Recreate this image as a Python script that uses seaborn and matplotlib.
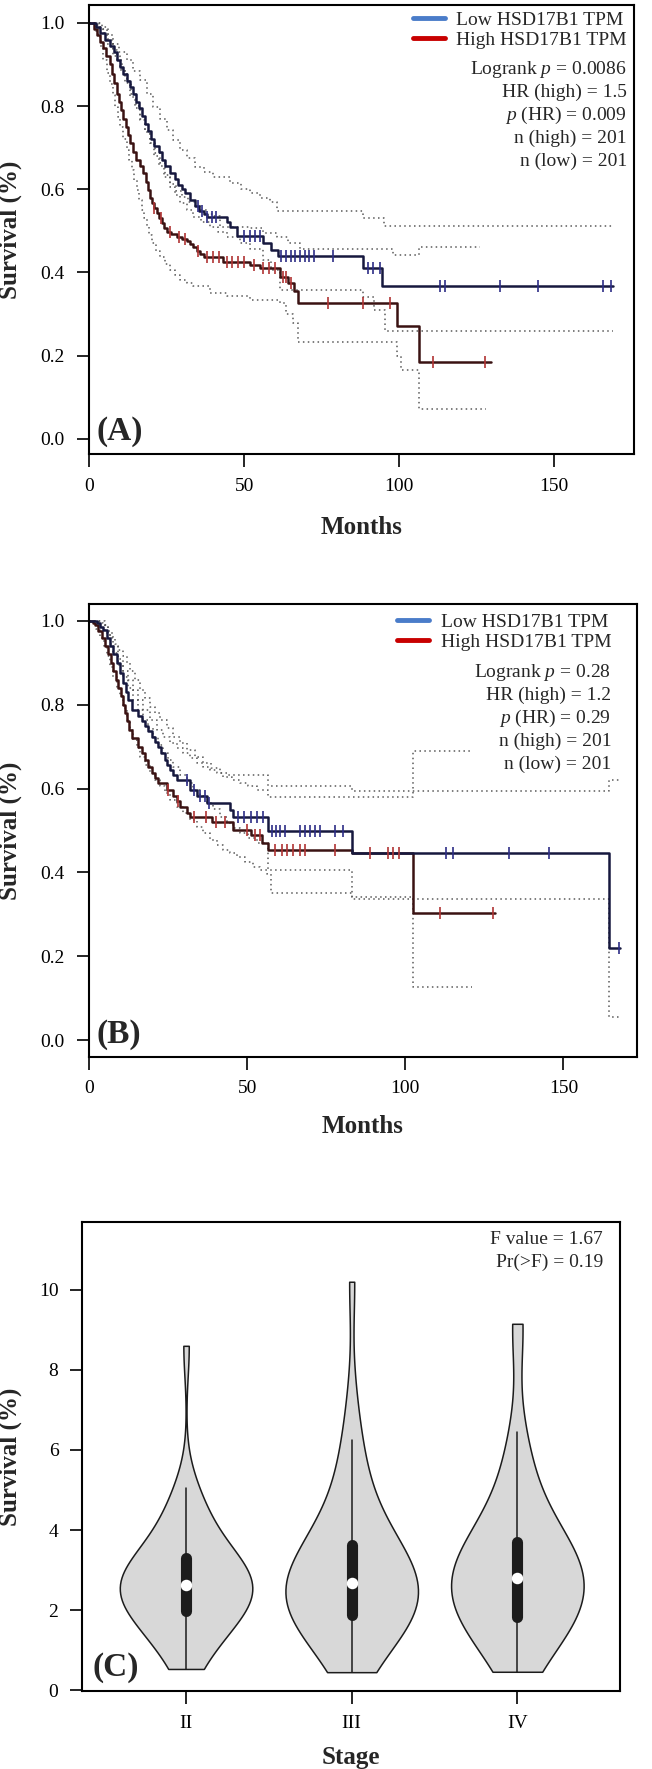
from __future__ import annotations

import matplotlib

matplotlib.use("Agg")
import matplotlib.pyplot as plt
from matplotlib.lines import Line2D
import numpy as np
import pandas as pd
import seaborn as sns


# ---------------- panel A: Kaplan-Meier steps (months, survival) ----------------
A_LOW_T = [0, 2, 3.5, 5, 6.5, 8, 9, 10, 11, 12, 13, 14, 15, 16, 17, 18, 19, 20, 21, 22.5,
           23.5, 24.5, 26, 27.5, 28.5, 30, 31, 32.5, 34, 35.5, 37, 38, 44.3, 45.5, 47.6,
           56.1, 58.8, 61, 88.5, 94.4, 169]
A_LOW_S = [1.0, 0.99, 0.975, 0.96, 0.945, 0.93, 0.91, 0.895, 0.878, 0.86, 0.845, 0.83, 0.81,
           0.795, 0.775, 0.758, 0.74, 0.72, 0.705, 0.69, 0.67, 0.655, 0.64, 0.625, 0.61, 0.60,
           0.59, 0.575, 0.56, 0.548, 0.54, 0.534, 0.52, 0.51, 0.487, 0.47, 0.454, 0.44, 0.41,
           0.367, 0.367]
A_HIGH_T = [0, 1.5, 2.5, 3.5, 4.5, 5.5, 6.5, 7.2, 8, 8.8, 9.5, 10.2, 11, 11.8, 12.5, 13.2, 14,
            15, 16.2, 17.4, 18.2, 19, 19.6, 20.3, 21, 21.8, 22.5, 23.3, 24.1, 25, 26.5, 28.2,
            30, 31.5, 32.5, 33.6, 34.8, 35.7, 37, 43.3, 51.9, 55.1, 61.6, 64.3, 66, 67.4,
            99.2, 106.6, 129.7]
A_HIGH_S = [1.0, 0.985, 0.97, 0.955, 0.94, 0.92, 0.9, 0.878, 0.855, 0.83, 0.81, 0.79, 0.77,
            0.75, 0.73, 0.71, 0.69, 0.67, 0.655, 0.638, 0.618, 0.598, 0.58, 0.566, 0.554, 0.542,
            0.53, 0.518, 0.506, 0.498, 0.492, 0.486, 0.48, 0.475, 0.468, 0.46, 0.452, 0.445,
            0.436, 0.426, 0.418, 0.41, 0.39, 0.374, 0.354, 0.326, 0.272, 0.184, 0.184]
A_LOW_CENS = [35, 36.5, 38, 39.5, 41, 50, 52, 53.5, 55, 62, 63.5, 65, 66.5, 68, 69.5, 71, 72.5,
              78.8, 90, 91.7, 93.8, 113.2, 114.8, 132.6, 145, 166, 168.5]
A_HIGH_CENS = [21, 23, 26, 29, 31, 35, 38, 40, 42, 44.5, 46, 48, 50, 53, 56, 58, 60, 62.5,
               63.5, 65, 77.2, 88.5, 97.1, 111.1, 127.8]

A_LOW_UP_T = [0, 3, 4, 6, 7.7, 9.5, 12, 14, 16.3, 18.5, 20.6, 22.8, 24.9, 27, 29.3, 31.5, 34.1,
              37, 40, 45.4, 49, 51.9, 55, 58.3, 60.6, 88.5, 95, 169]
A_LOW_UP_S = [1.0, 1.0, 0.99, 0.97, 0.95, 0.93, 0.91, 0.885, 0.862, 0.83, 0.798, 0.77, 0.742,
              0.718, 0.694, 0.675, 0.654, 0.642, 0.63, 0.614, 0.60, 0.59, 0.58, 0.57, 0.548,
              0.53, 0.512, 0.512]
A_LOW_LO_T = [0, 3, 5.6, 7.5, 9.9, 11.5, 13.1, 14.7, 16.3, 18, 19.6, 21.2, 22.8, 24.4, 26, 27.7,
              29.3, 31.5, 33.6, 36, 38.9, 41.5, 44.3, 48.6, 52, 56, 58.5, 61.6, 88.5, 92, 95.4,
              169]
A_LOW_LO_S = [1.0, 0.985, 0.95, 0.92, 0.886, 0.855, 0.822, 0.795, 0.766, 0.738, 0.71, 0.686,
              0.662, 0.634, 0.606, 0.585, 0.566, 0.55, 0.534, 0.52, 0.51, 0.498, 0.486, 0.47,
              0.455, 0.43, 0.405, 0.357, 0.34, 0.31, 0.259, 0.259]
A_HIGH_UP_T = [0, 2, 3, 4.5, 6, 7.5, 9, 10.5, 12, 13.5, 15, 16.5, 18, 19.5, 21, 22.5, 24, 26, 28,
               30, 32, 34, 36, 38, 40, 42.2, 51.9, 56, 60.6, 64, 68.1, 98.2, 106.6, 126]
A_HIGH_UP_S = [1.0, 0.995, 0.99, 0.975, 0.96, 0.935, 0.91, 0.885, 0.86, 0.83, 0.80, 0.77, 0.74,
               0.71, 0.68, 0.655, 0.63, 0.612, 0.595, 0.582, 0.57, 0.56, 0.55, 0.54, 0.535,
               0.51, 0.506, 0.495, 0.486, 0.47, 0.455, 0.442, 0.461, 0.461]
A_HIGH_LO_T = [0, 2, 2.9, 3.7, 4.5, 5.6, 6.7, 7.5, 8.3, 9.1, 9.9, 11, 12, 12.9, 13.7, 14.5, 15.3,
               16.1, 16.9, 17.7, 18.5, 19.3, 20.1, 21.5, 22.8, 24.4, 26, 27.7, 29.3, 31.5, 33.6,
               38.9, 44.3, 52, 61.6, 63.6, 65.7, 67.4, 99.5, 100.6, 106.6, 128]
A_HIGH_LO_S = [1.0, 0.98, 0.966, 0.94, 0.91, 0.88, 0.854, 0.826, 0.798, 0.774, 0.75, 0.72, 0.694,
               0.67, 0.646, 0.622, 0.598, 0.574, 0.55, 0.53, 0.51, 0.49, 0.47, 0.452, 0.438,
               0.42, 0.406, 0.393, 0.382, 0.374, 0.366, 0.35, 0.342, 0.334, 0.326, 0.30, 0.278,
               0.233, 0.20, 0.164, 0.072, 0.072]
A_STATS = ["Logrank $p$ = 0.0086", "HR (high) = 1.5", "$p$ (HR) = 0.009",
           "n (high) = 201", "n (low) = 201"]

# ---------------- panel B ----------------
B_LOW_T = [0, 1.5, 2.3, 3.3, 4.4, 5.5, 6.5, 7.5, 8.6, 9.6, 10.7, 11.5, 12.3, 13.4, 15.5, 16.5,
           17.6, 18.6, 19.7, 20.7, 21.8, 22.8, 23.9, 24.7, 25.5, 26.5, 27.6, 31.8, 33.9, 37.1,
           44.5, 45.5, 56.6, 83, 164.4, 167.8]
B_LOW_S = [1.0, 1.0, 0.994, 0.985, 0.978, 0.96, 0.939, 0.92, 0.899, 0.875, 0.851, 0.83, 0.811,
           0.788, 0.772, 0.76, 0.748, 0.736, 0.724, 0.712, 0.70, 0.684, 0.668, 0.656, 0.644,
           0.632, 0.62, 0.597, 0.581, 0.565, 0.549, 0.533, 0.499, 0.446, 0.22, 0.22]
B_HIGH_T = [0, 1, 1.8, 2.8, 3.9, 5, 6, 6.8, 7.6, 8.4, 9.2, 10, 10.7, 11.3, 11.8, 12.6, 13.4,
            15.5, 16.5, 17.6, 18.6, 19.7, 20.7, 21.8, 24.5, 26.6, 27.6, 28.7, 30.8, 31.8, 38.7,
            45.5, 51, 54.5, 56.6, 83, 102.5, 128.5]
B_HIGH_S = [1.0, 0.995, 0.99, 0.975, 0.96, 0.94, 0.92, 0.9, 0.88, 0.86, 0.84, 0.82, 0.80, 0.78,
            0.76, 0.74, 0.72, 0.70, 0.684, 0.668, 0.652, 0.636, 0.624, 0.613, 0.597, 0.581,
            0.569, 0.557, 0.541, 0.532, 0.52, 0.50, 0.488, 0.469, 0.453, 0.447, 0.302, 0.302]
B_LOW_CENS = [31, 33, 35, 36.5, 38, 47, 49, 51, 53, 55, 57.7, 59, 60.3, 61.9, 66.6, 68.2, 69.8,
              71.4, 73, 77.7, 80.4, 113, 115.2, 132.8, 145.4, 167.5]
B_HIGH_CENS = [25, 28, 33, 37, 40, 43, 50, 52.5, 54, 58.7, 60.8, 62.4, 64.5, 66.6, 68.2, 77.7,
               88.7, 94.5, 96, 98.1, 110.9, 127.8]

B_LOW_UP_T = [0, 4, 5, 6, 7, 8, 9, 10.5, 11.8, 13, 14.5, 16, 17.6, 19.2, 20.7, 22.3, 24.5,
              26.6, 28.7, 30.8, 33.4, 36, 38.6, 41.3, 44, 56.6, 83, 164.4, 167.8]
B_LOW_UP_S = [1.0, 1.0, 0.99, 0.975, 0.96, 0.945, 0.93, 0.915, 0.9, 0.88, 0.86, 0.836, 0.815,
              0.795, 0.78, 0.764, 0.745, 0.724, 0.708, 0.692, 0.676, 0.66, 0.648, 0.636, 0.632,
              0.605, 0.594, 0.62, 0.62]
B_LOW_LO_T = [0, 3, 5, 6.5, 7.6, 9.2, 10.7, 12.3, 13.9, 15.5, 17.1, 18.6, 20.2, 21.8, 23.4, 25,
              26.6, 28.7, 30.8, 32.9, 35, 37.1, 39.2, 41.3, 43.4, 45.5, 47.7, 50.3, 52.9, 56.6,
              83, 164.4, 167.8]
B_LOW_LO_S = [1.0, 0.99, 0.97, 0.945, 0.923, 0.895, 0.867, 0.84, 0.811, 0.787, 0.764, 0.744,
              0.724, 0.704, 0.684, 0.668, 0.652, 0.632, 0.613, 0.597, 0.581, 0.565, 0.55, 0.533,
              0.517, 0.505, 0.493, 0.481, 0.469, 0.406, 0.336, 0.054, 0.054]
B_HIGH_UP_T = [0, 2, 3, 4.4, 6, 7.6, 9.2, 10.7, 12.3, 13.9, 15.5, 17.1, 19.2, 21.3, 23.4, 25.5,
               27.6, 29.7, 31.8, 33.9, 36, 38.1, 40.3, 42.4, 45, 47.7, 50.3, 52.9, 56.6, 102.5,
               120.5]
B_HIGH_UP_S = [1.0, 1.0, 0.995, 0.99, 0.965, 0.94, 0.91, 0.88, 0.858, 0.835, 0.811, 0.787,
               0.764, 0.74, 0.724, 0.708, 0.696, 0.684, 0.672, 0.66, 0.652, 0.645, 0.636, 0.628,
               0.62, 0.613, 0.605, 0.597, 0.58, 0.69, 0.69]
B_HIGH_LO_T = [0, 2, 3.4, 4.5, 5.5, 6.5, 7.6, 8.6, 9.7, 10.7, 11.8, 12.9, 13.9, 15, 16, 17.6,
               19.2, 20.7, 22.3, 23.9, 25.5, 27.6, 29.7, 31.8, 33.9, 36, 38.1, 40.3, 42.4, 44.5,
               46.6, 49.2, 51.9, 54, 56.1, 57.5, 83, 102.5, 121]
B_HIGH_LO_S = [1.0, 0.98, 0.96, 0.94, 0.915, 0.89, 0.867, 0.843, 0.82, 0.792, 0.764, 0.74,
               0.716, 0.696, 0.676, 0.656, 0.636, 0.62, 0.605, 0.589, 0.573, 0.557, 0.541, 0.525,
               0.509, 0.493, 0.477, 0.465, 0.453, 0.445, 0.437, 0.425, 0.413, 0.405, 0.397,
               0.35, 0.342, 0.127, 0.127]
B_STATS = ["Logrank $p$ = 0.28", "HR (high) = 1.2", "$p$ (HR) = 0.29",
           "n (high) = 201", "n (low) = 201"]

# ---------------- panel C: values per stage ----------------
STAGES = ["II", "III", "IV"]
STAGE_II = [0.53, 0.8, 1.0, 1.18, 1.33, 1.47, 1.6, 1.71, 1.82, 1.9, 1.95, 2.02, 2.1, 2.18,
            2.26, 2.33, 2.4, 2.46, 2.52, 2.56, 2.6, 2.64, 2.7, 2.76, 2.82, 2.88, 2.94, 3.0,
            3.07, 3.13, 3.2, 3.32, 3.45, 3.6, 3.75, 3.92, 4.1, 4.3, 4.55, 4.85, 5.05, 8.6]
STAGE_III = [0.45, 0.68, 0.9, 1.08, 1.25, 1.4, 1.53, 1.64, 1.72, 1.79, 1.84, 1.88, 2.0, 2.07,
             2.14, 2.2, 2.26, 2.32, 2.38, 2.44, 2.5, 2.56, 2.67, 2.76, 2.85, 2.94, 3.02, 3.1,
             3.2, 3.3, 3.4, 3.48, 3.56, 3.63, 3.8, 4.0, 4.2, 4.45, 4.7, 5.0, 5.4, 5.9, 6.25,
             7.3, 10.2]
STAGE_IV = [0.46, 0.7, 0.92, 1.1, 1.27, 1.42, 1.55, 1.65, 1.72, 1.78, 1.81, 1.83, 1.95, 2.08,
            2.2, 2.3, 2.4, 2.48, 2.56, 2.63, 2.7, 2.75, 2.79, 2.88, 2.97, 3.06, 3.15, 3.24, 3.33,
            3.42, 3.5, 3.58, 3.64, 3.7, 3.88, 4.08, 4.3, 4.55, 4.8, 5.1, 5.5, 6.0, 6.45, 9.02,
            9.15]
C_STATS = ["F value = 1.67", "Pr(>F) = 0.19"]

LOW_LEGEND = "#4a7cc9"
HIGH_LEGEND = "#c80000"
LOW_LINE = "#16183e"
HIGH_LINE = "#3a1212"
LOW_TICK = "#2e2e86"
HIGH_TICK = "#b03434"
CI_COLOR = "#5a5a5a"


def _style() -> None:
    sns.set_style("ticks")
    plt.rcParams["font.family"] = ["Liberation Serif", "DejaVu Serif"]
    plt.rcParams.update(
        {
            "mathtext.fontset": "custom",
            "mathtext.rm": "Liberation Serif",
            "mathtext.it": "Liberation Serif:italic",
            "axes.linewidth": 1.5,
            "axes.edgecolor": "black",
            "xtick.major.size": 9,
            "ytick.major.size": 9,
            "xtick.major.width": 1.2,
            "ytick.major.width": 1.2,
            "xtick.major.pad": 8,
            "ytick.major.pad": 8,
            "xtick.color": "black",
            "ytick.color": "black",
        }
    )


def _steps(t, s) -> pd.DataFrame:
    return pd.DataFrame({"months": t, "survival": s})


def _value_at(t, s, times):
    idx = np.searchsorted(np.asarray(t), np.asarray(times), side="right") - 1
    return np.asarray(s)[idx]


def _frame(ax, ylabel, xlabel, label_x, label_y) -> None:
    for side in ["top", "right", "left", "bottom"]:
        ax.spines[side].set_visible(True)
        ax.spines[side].set_linewidth(1.5)
    ax.tick_params(labelsize=14, direction="out")
    ax.set_ylabel(ylabel, fontsize=18, fontweight="bold")
    ax.set_xlabel(xlabel, fontsize=18, fontweight="bold")
    ax.yaxis.set_label_coords(label_y, 0.5)
    ax.xaxis.set_label_coords(0.5, label_x)


def draw_km(ax, low, high, stats, xlim, ylim, text_x, rows, tag) -> None:
    for t, s in low["ci"] + high["ci"]:
        sns.lineplot(data=_steps(t, s), x="months", y="survival", ax=ax, estimator=None,
                     sort=False, drawstyle="steps-post", color=CI_COLOR, linewidth=1.1,
                     linestyle=(0, (1, 2.2)))
    for grp, line_c, tick_c in [(high, HIGH_LINE, HIGH_TICK), (low, LOW_LINE, LOW_TICK)]:
        sns.lineplot(data=_steps(grp["t"], grp["s"]), x="months", y="survival", ax=ax,
                     estimator=None, sort=False, drawstyle="steps-post", color=line_c,
                     linewidth=1.8)
        cens = pd.DataFrame({"months": grp["cens"],
                             "survival": _value_at(grp["t"], grp["s"], grp["cens"])})
        sns.scatterplot(data=cens, x="months", y="survival", ax=ax, marker="|", s=70,
                        linewidth=1.2, color=tick_c, zorder=4)

    ax.set_xlim(*xlim)
    ax.set_ylim(*ylim)
    ax.set_xticks([0, 50, 100, 150])
    ax.set_yticks([0.0, 0.2, 0.4, 0.6, 0.8, 1.0])
    ax.set_yticklabels([f"{v:.1f}" for v in [0.0, 0.2, 0.4, 0.6, 0.8, 1.0]])

    handles = [Line2D([], [], color=LOW_LEGEND, lw=3.5, label="Low HSD17B1 TPM"),
               Line2D([], [], color=HIGH_LEGEND, lw=3.5, label="High HSD17B1 TPM")]
    ax.legend(handles=handles, loc="upper right", frameon=False, fontsize=14,
              bbox_to_anchor=(text_x, rows[0] + 0.027), borderpad=0, borderaxespad=0,
              handlelength=1.65, handletextpad=0.6, labelspacing=0.1)
    for y, line in zip(rows[2:], stats):
        ax.text(text_x, y, line, transform=ax.transAxes, ha="right", va="center", fontsize=14)
    ax.text(0.014, 0.05, tag, transform=ax.transAxes, ha="left", va="center",
            fontsize=24, fontweight="bold")


def main() -> None:
    _style()
    fig = plt.figure(figsize=(6.52, 17.69), dpi=100)

    ax_a = fig.add_axes([0.1359, 0.7431, 0.8365, 0.2543])
    low_a = {"t": A_LOW_T, "s": A_LOW_S, "cens": A_LOW_CENS,
             "ci": [(A_LOW_UP_T, A_LOW_UP_S), (A_LOW_LO_T, A_LOW_LO_S)]}
    high_a = {"t": A_HIGH_T, "s": A_HIGH_S, "cens": A_HIGH_CENS,
              "ci": [(A_HIGH_UP_T, A_HIGH_UP_S), (A_HIGH_LO_T, A_HIGH_LO_S)]}
    rows_a = [0.958 - 0.0512 * i for i in range(7)]
    draw_km(ax_a, low_a, high_a, A_STATS, (-0.26, 175.9), (-0.038, 1.044), 0.987, rows_a, "(A)")
    _frame(ax_a, "Survival (%)", "Months", -0.137, -0.122)

    ax_b = fig.add_axes([0.1359, 0.4026, 0.8411, 0.2557])
    low_b = {"t": B_LOW_T, "s": B_LOW_S, "cens": B_LOW_CENS,
             "ci": [(B_LOW_UP_T, B_LOW_UP_S), (B_LOW_LO_T, B_LOW_LO_S)]}
    high_b = {"t": B_HIGH_T, "s": B_HIGH_S, "cens": B_HIGH_CENS,
              "ci": [(B_HIGH_UP_T, B_HIGH_UP_S), (B_HIGH_LO_T, B_HIGH_LO_S)]}
    rows_b = [0.953 - 0.0512 * i for i in range(7)]
    draw_km(ax_b, low_b, high_b, B_STATS, (-0.25, 173.3), (-0.040, 1.039), 0.953, rows_b, "(B)")
    _frame(ax_b, "Survival (%)", "Months", -0.128, -0.121)

    ax_c = fig.add_axes([0.1258, 0.0441, 0.8252, 0.2653])
    df_c = pd.DataFrame(
        {
            "stage": ["II"] * len(STAGE_II) + ["III"] * len(STAGE_III) + ["IV"] * len(STAGE_IV),
            "value": STAGE_II + STAGE_III + STAGE_IV,
        }
    )
    sns.violinplot(data=df_c, x="stage", y="value", order=STAGES, ax=ax_c, color="#d8d8d8",
                   saturation=1, linecolor="#1c1c1c", linewidth=1.1, cut=0,
                   density_norm="width", width=0.8, bw_adjust=1.15, inner="box",
                   inner_kws=dict(box_width=8, whis_width=1.1, marker="o"))
    ax_c.set_xlim(-0.628, 2.62)
    ax_c.set_ylim(-0.02, 11.7)
    ax_c.set_yticks([0, 2, 4, 6, 8, 10])
    _frame(ax_c, "Survival (%)", "Stage", -0.117, -0.112)
    for i, line in enumerate(C_STATS):
        ax_c.text(0.968, 0.963 - 0.049 * i, line, transform=ax_c.transAxes, ha="right",
                  va="center", fontsize=14)
    ax_c.text(0.019, 0.05, "(C)", transform=ax_c.transAxes, ha="left", va="center",
              fontsize=24, fontweight="bold")

    fig.savefig("out.png", dpi=100)
    plt.close(fig)


if __name__ == "__main__":
    main()
